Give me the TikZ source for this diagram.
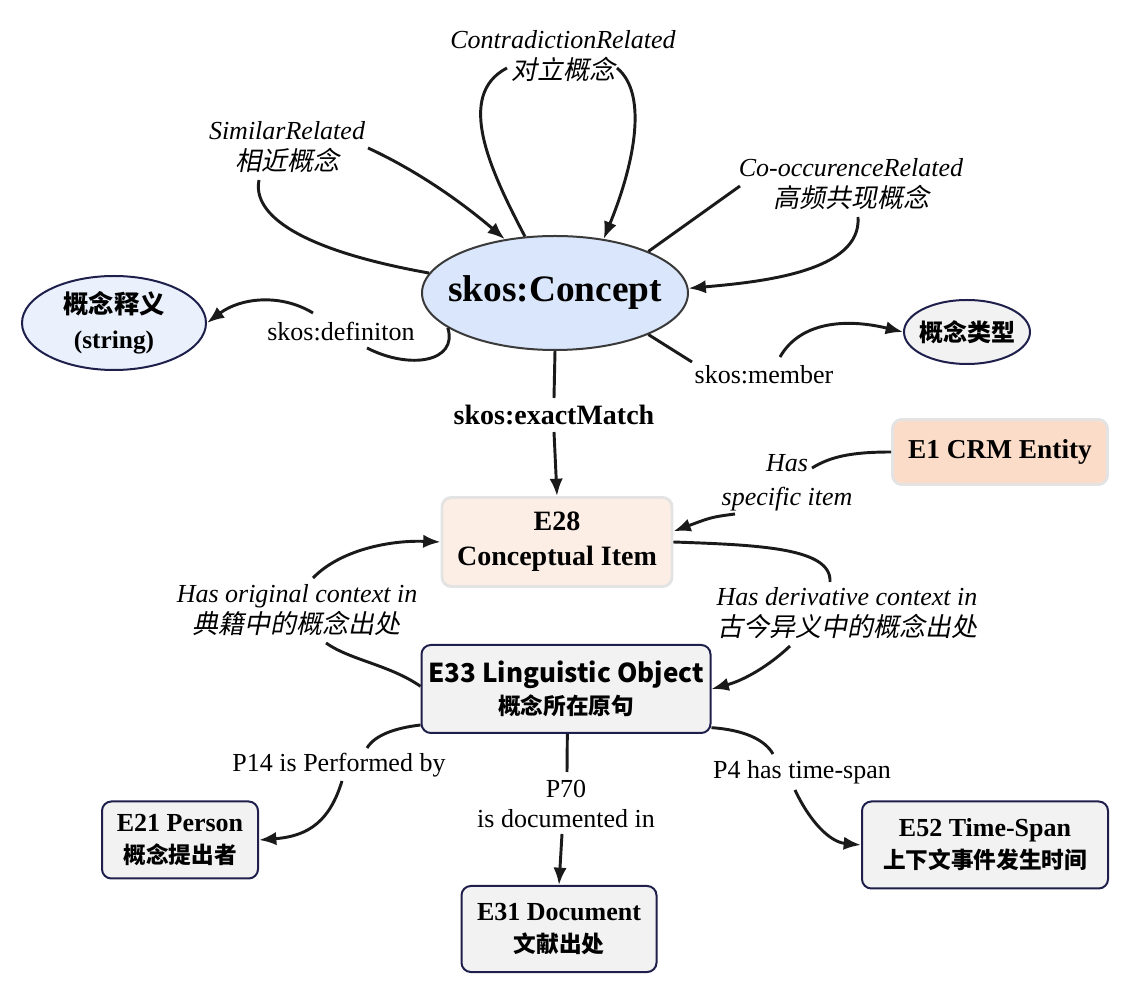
\documentclass[tikz,border=0pt]{standalone}
\usepackage{fontspec}
\setmainfont{Liberation Serif}
\newfontfamily\cjk{Noto Sans CJK SC}
\newfontfamily\cjkit{Noto Sans CJK SC}[FakeSlant=0.2]
\usetikzlibrary{arrows.meta,shapes.geometric}
\definecolor{conceptfill}{HTML}{DAE6FB}
\definecolor{conceptline}{HTML}{3A3A3A}
\definecolor{lightblue}{HTML}{EAF1FD}
\definecolor{navy}{HTML}{1E1F4B}
\definecolor{grayfill}{HTML}{F2F2F3}
\definecolor{peach}{HTML}{FBDCC8}
\definecolor{lightpeach}{HTML}{FDEEE5}
\definecolor{peachline}{HTML}{E3E3E3}
\definecolor{linec}{HTML}{1A1A1A}
\begin{document}
\begin{tikzpicture}[x=0.75pt,y=-0.75pt,
  conn/.style={line width=2.2pt, draw=linec},
  arr/.style={conn, -{Latex[length=13pt,width=10pt]}},
  lab/.style={inner sep=0pt, align=center, font=\fontsize{19.5}{23}\selectfont\itshape},
  ulab/.style={inner sep=0pt, align=center, font=\fontsize{19.5}{22}\selectfont},
  ellnode/.style={ellipse, inner sep=0pt, line width=1.5pt, align=center},
  graybox/.style={rectangle, rounded corners=7pt, draw=navy, line width=1.5pt, fill=grayfill, align=center, inner sep=0pt, font=\fontsize{19.5}{24}\selectfont\bfseries},
  peachbox/.style={rectangle, rounded corners=7pt, draw=peachline, line width=2.2pt, align=center, inner sep=0pt, font=\fontsize{21}{26}\selectfont\bfseries}
]
\useasboundingbox (0,0) rectangle (1133,994);

% main nodes
\node[ellnode, draw=conceptline, fill=conceptfill, minimum width=199.5pt, minimum height=85.5pt,
      font=\fontsize{28}{30}\selectfont\bfseries] (concept) at (555,293) {\makebox[0pt]{skos:Concept}};
\node[ellnode, draw=navy, fill=lightblue, minimum width=138pt, minimum height=70.5pt,
      font=\fontsize{19}{26}\selectfont\bfseries] (defn) at (114,323) {\makebox[0pt]{\cjk 概念释义}\\\makebox[0pt]{(string)}};
\node[ellnode, draw=navy, fill=grayfill, minimum width=94.5pt, minimum height=48pt,
      font=\fontsize{18}{22}\selectfont\bfseries] (ctype) at (967,332) {\makebox[0pt]{\cjk 概念类型}};
\node[peachbox, fill=peach, minimum width=161.25pt, minimum height=48.75pt,
      font=\fontsize{20.5}{24}\selectfont\bfseries] (e1) at (1000,452) {E1 CRM Entity};
\node[peachbox, fill=lightpeach, minimum width=172.5pt, minimum height=66.75pt] (e28) at (557,542) {E28\\Conceptual Item};
\node[graybox, minimum width=216.75pt, minimum height=66pt] (e33) at (566,689)
  {{\cjk\fontsize{19.5}{24}\selectfont E33 Linguistic Object}\\{\cjk\fontsize{17}{22}\selectfont 概念所在原句}};
\node[graybox, minimum width=117pt, minimum height=57.75pt] (e21) at (180,840)
  {E21 Person\\{\cjk\fontsize{17}{22}\selectfont 概念提出者}};
\node[graybox, minimum width=146.25pt, minimum height=64.5pt] (e31) at (559,929)
  {E31 Document\\{\cjk\fontsize{17}{22}\selectfont 文献出处}};
\node[graybox, minimum width=184.5pt, minimum height=65.25pt] (e52) at (985,845)
  {E52 Time-Span\\{\cjk\fontsize{17}{22}\selectfont 上下文事件发生时间}};

% labels
\node[lab] (simlab) at (287,147) {SimilarRelated\\{\cjkit 相近概念}};
\node[lab] (conlab) at (563,56) {ContradictionRelated\\{\cjkit 对立概念}};
\node[lab] (coolab) at (851,184) {Co-occurenceRelated\\{\cjkit 高频共现概念}};
\node[ulab] (deflab) at (341,332) {skos:definiton};
\node[ulab] (memlab) at (764,375) {skos:member};
\node[ulab, font=\fontsize{21}{24}\selectfont\bfseries] (exlab) at (554,415) {skos:exactMatch};
\node[lab, font=\fontsize{19.5}{25.5}\selectfont\itshape] (haslab) at (787,483) {Has\\specific item};
\node[lab] (origlab) at (297,610) {Has original context in\\{\cjkit 典籍中的概念出处}};
\node[lab] (derlab) at (847,613) {Has derivative context in\\{\cjkit 古今异义中的概念出处}};
\node[ulab] (p14lab) at (339,765) {P14 is Performed by};
\node[ulab] (p70lab) at (566,804) {P70\\is documented in};
\node[ulab] (p4lab) at (802,772) {P4 has time-span};

% gap ends
\coordinate (simA) at (259,180); \coordinate (simB) at (368,148);
\coordinate (conA) at (507,68);  \coordinate (conB) at (617,68);
\coordinate (cooA) at (740,186); \coordinate (cooB) at (858,217);
\coordinate (defA) at (367,348); \coordinate (defB) at (313,313);
\coordinate (memA) at (692,362); \coordinate (memB) at (780,357);
\coordinate (exA) at (554,398);  \coordinate (exB) at (554,432);
\coordinate (hasA) at (812,468); \coordinate (hasB) at (735,514);
\coordinate (origA) at (326,643); \coordinate (origB) at (313,578);
\coordinate (derA) at (830,582); \coordinate (derB) at (790,646);
\coordinate (p14A) at (367,748); \coordinate (p14B) at (342,781);
\coordinate (p70A) at (567,772); \coordinate (p70B) at (562,834);
\coordinate (p4A) at (773,754); \coordinate (p4B) at (795,790);

% connectors
\draw[conn] (concept.171) .. controls (300,250) and (252,215) .. (simA);
\draw[arr] (simB) .. controls (420,172) and (465,205) .. (concept.133);

\draw[conn] (concept.118) .. controls (490,170) and (455,95) .. (conA);
\draw[arr] (conB) .. controls (650,95) and (632,170) .. (concept.48);

\draw[conn] (concept.24) -- (cooA);
\draw[arr] (cooB) .. controls (862,272) and (760,282) .. (concept.2);

\draw[conn] (concept.198) .. controls (458,362) and (410,370) .. (defA);
\draw[arr] (defB) .. controls (280,293) and (240,298) .. (defn.east);

\draw[conn] (concept.336) -- (memA);
\draw[arr] (memB) .. controls (800,322) and (845,318) .. (ctype.west);

\draw[conn] (concept.south) -- (exA);
\draw[arr] (exB) -- (e28.north);

\draw[conn] (e1.west) .. controls (850,452) and (830,457) .. (hasA);
\draw[arr] (hasB) .. controls (712,517) .. ([yshift=8pt]e28.east);

\draw[conn] ([yshift=2pt]e33.west) .. controls (390,665) and (350,660) .. (origA);
\draw[arr] (origB) .. controls (340,550) and (390,540) .. (e28.west);

\draw[conn] (e28.east) .. controls (760,545) and (832,548) .. (derA);
\draw[arr] (derB) .. controls (770,665) and (745,680) .. (e33.east);

\draw[conn] ([yshift=-27pt]e33.west) .. controls (395,728) and (375,735) .. (p14A);
\draw[arr] (p14B) .. controls (330,820) and (310,836) .. (e21.east);

\draw[conn] ([xshift=1pt]e33.south) -- (p70A);
\draw[arr] (p70B) -- (e31.north);

\draw[conn] ([yshift=-29pt]e33.east) .. controls (745,730) and (765,740) .. (p4A);
\draw[arr] (p4B) .. controls (810,822) and (830,842) .. (e52.west);
\end{tikzpicture}
\end{document}
